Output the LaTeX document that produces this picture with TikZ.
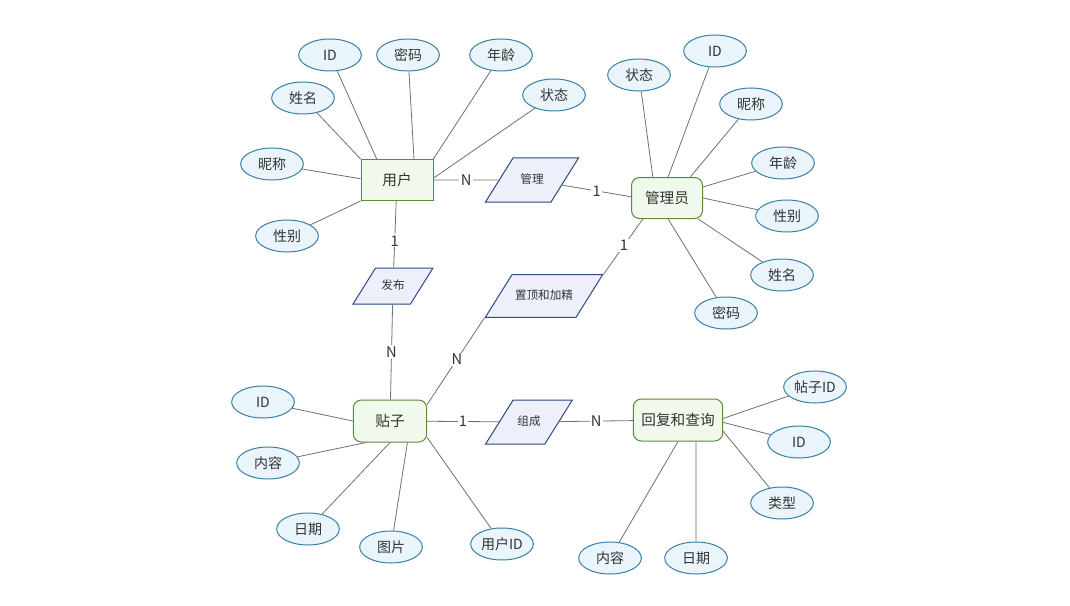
\documentclass[tikz,border=0pt]{standalone}
\usepackage{fontspec}
\setmainfont{Noto Sans CJK SC}
\usetikzlibrary{shapes.geometric}
\definecolor{attrfill}{HTML}{EAF4FB}
\definecolor{attrdraw}{HTML}{3A7FA6}
\definecolor{entfill}{HTML}{F1F8EC}
\definecolor{entdraw}{HTML}{5B8A3A}
\definecolor{relfill}{HTML}{EDF0FA}
\definecolor{reldraw}{HTML}{2C4A86}
\definecolor{linec}{HTML}{707070}
\definecolor{txt}{HTML}{333333}
\begin{document}
\begin{tikzpicture}[x=0.75pt,y=-0.75pt,
 attr/.style={ellipse, draw=attrdraw, fill=attrfill, line width=0.75pt, minimum width=47pt, minimum height=24pt, inner sep=0pt, font=\fontsize{10.5}{12}\selectfont, text=txt},
 ent/.style={rectangle, draw=entdraw, fill=entfill, line width=0.75pt, minimum height=30.75pt, inner sep=0pt, font=\fontsize{11}{13}\selectfont, text=txt},
 rent/.style={ent, rounded corners=6pt},
 rel/.style={trapezium, trapezium left angle=58, trapezium right angle=122, draw=reldraw, fill=relfill, line width=0.75pt, inner xsep=0pt, text height=7pt, text depth=2pt, align=center, font=\fontsize{8.7}{10}\selectfont, text=txt},
 link/.style={draw=linec, line width=0.6pt},
 card/.style={fill=white, inner sep=1pt, font=\fontsize{11}{13}\selectfont, text=txt}
]
\useasboundingbox (0,0) rectangle (1070,606);
\fill[white] (0,0) rectangle (1070,606);

% entities
\node[ent, minimum width=54pt] (user) at (397,180) {用户};
\node[rent, minimum width=53.25pt] (admin) at (667,198) {管理员};
\node[rent, minimum width=55pt, minimum height=31.5pt] (tiezi) at (390,421) {贴子};
\node[rent, minimum width=67pt, minimum height=31.5pt] (huifu) at (678,420) {回复和查询};

% relationships
\node[rel, text width=28.5pt, inner ysep=12pt] (guanli) at (532,180) {管理};
\node[rel, text width=26.2pt, inner ysep=9pt] (fabu) at (393,286) {发布};
\node[rel, text width=48pt, inner ysep=11.5pt] (zhiding) at (544,296) {置顶和加精};
\node[rel, text width=23.8pt, inner ysep=12pt] (zucheng) at (529,422) {组成};

% user attributes
\node[attr] (uID) at (330,55) {ID};
\node[attr] (uPwd) at (408,55) {密码};
\node[attr] (uAge) at (501,55) {年龄};
\node[attr] (uState) at (554,95) {状态};
\node[attr] (uName) at (303,98) {姓名};
\node[attr] (uNick) at (272,164) {昵称};
\node[attr] (uSex) at (287,236) {性别};

% admin attributes
\node[attr] (aState) at (639,75) {状态};
\node[attr] (aID) at (715,51) {ID};
\node[attr] (aNick) at (751,104) {昵称};
\node[attr] (aAge) at (783,163) {年龄};
\node[attr] (aSex) at (787,216) {性别};
\node[attr] (aName) at (782,275) {姓名};
\node[attr] (aPwd) at (726,313) {密码};

% post attributes
\node[attr] (tID) at (263,402) {ID};
\node[attr] (tCont) at (268,463) {内容};
\node[attr] (tDate) at (308,529) {日期};
\node[attr] (tPic) at (391,547) {图片};
\node[attr] (tUid) at (502,544) {用户ID};

% reply attributes
\node[attr] (hPid) at (815,387) {帖子ID};
\node[attr] (hID) at (799,442) {ID};
\node[attr] (hType) at (782,503) {类型};
\node[attr] (hCont) at (610,558) {内容};
\node[attr] (hDate) at (696,558) {日期};

% attribute links
\draw[link] (uID) -- (user.134);
\draw[link] (uPwd) -- (user.51);
\draw[link] (uAge) -- (user.30);
\draw[link] (uState) -- (user.3);
\draw[link] (uName) -- (user.150);
\draw[link] (uNick) -- (user.178);
\draw[link] (uSex) -- (user.210);

\draw[link] (aState) -- (admin.124);
\draw[link] (aID) -- (admin.87);
\draw[link] (aNick) -- (admin.42);
\draw[link] (aAge) -- (admin.17);
\draw[link] (aSex) -- (admin.0);
\draw[link] (aName) -- (admin.326);
\draw[link] (aPwd) -- (admin.273);

\draw[link] (tID) -- (tiezi.180);
\draw[link] (tCont) -- (tiezi.222);
\draw[link] (tDate) -- (tiezi.270);
\draw[link] (tPic) -- (tiezi.309);
\draw[link] (tUid) -- (tiezi.336);

\draw[link] (hPid) -- (huifu.2);
\draw[link] (hID) -- (huifu.-3);
\draw[link] (hType) -- (huifu.-14);
\draw[link] (hCont) -- (huifu.270);
\draw[link] (hDate) -- (huifu.310);

% relationship links
\draw[link] (user) -- node[card] {N} (guanli);
\draw[link] (guanli) -- node[card] {1} (admin.178);
\draw[link] (user) -- node[card, pos=0.6] {1} (fabu);
\draw[link] (fabu) -- node[card] {N} (tiezi);
\draw[link] (tiezi.24) -- node[card, pos=0.52] {N} (zhiding.bottom left corner);
\draw[link] (zhiding.top right corner) -- node[card, pos=0.52] {1} (admin.221);
\draw[link] (tiezi) -- node[card] {1} (zucheng);
\draw[link] (zucheng) -- node[card] {N} (huifu);
\end{tikzpicture}
\end{document}
